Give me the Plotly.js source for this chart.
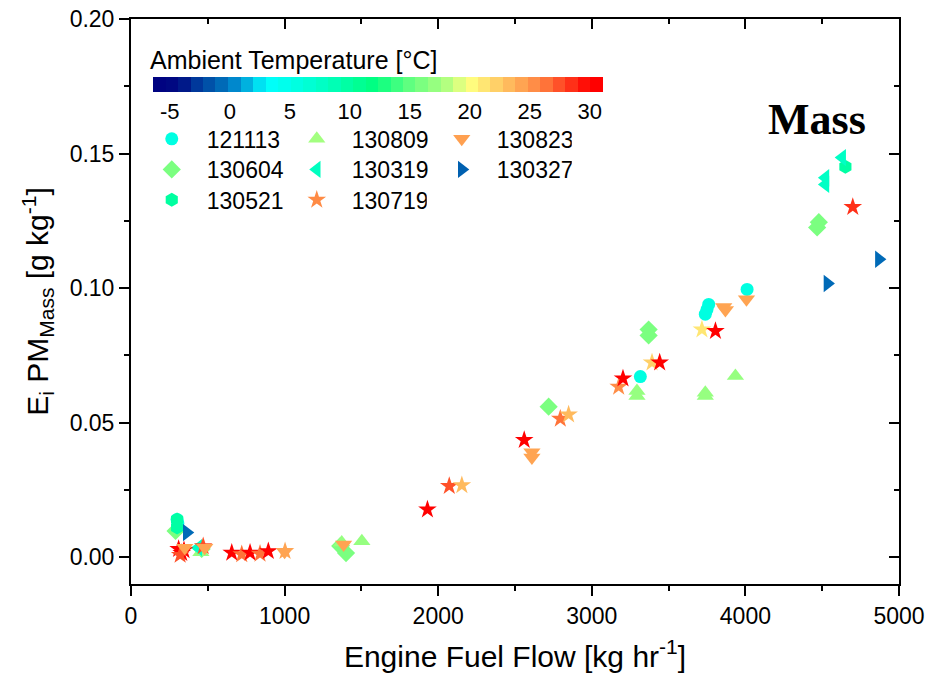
<!DOCTYPE html>
<html>
<head>
<meta charset="utf-8">
<script src="https://cdn.plot.ly/plotly-3.0.1.min.js"></script>
<style>html,body{margin:0;padding:0;background:#fff;}#chart{width:929px;height:680px;}</style>
</head>
<body>
<div id="chart"></div>
<script>
// ---- data ----
const flightNames = ['121113','130604','130521','130809','130319','130719','130823','130327'];
const flightSymbols = ['circle','diamond','hexagon','triangle-up','triangle-left','star','triangle-down','triangle-right'];
const legendTemps = [5.5, 16, 10, 17.5, 8, 25.5, 24.5, -1];

const f121113_x = [300, 305, 3316, 3739, 3750, 3761, 4011];
const f121113_y = [0.0140, 0.0125, 0.0671, 0.0903, 0.0920, 0.0939, 0.0995];
const f121113_t = [5.5, 5.5, 5.5, 5.5, 5.5, 5.5, 5.5];

const f130604_x = [290, 460, 1362, 1400, 2719, 3370, 3370, 4467, 4478];
const f130604_y = [0.0097, 0.0030, 0.0041, 0.0015, 0.0559, 0.0824, 0.0846, 0.1225, 0.1245];
const f130604_t = [16, 16, 16, 16, 16, 16, 16, 16, 16];

const f130521_x = [300, 300, 4651];
const f130521_y = [0.0140, 0.0110, 0.1451];
const f130521_t = [10, 10, 10];

const f130809_x = [455, 1372, 1503, 3294, 3294, 3739, 3739, 3935];
const f130809_y = [0.0018, 0.0054, 0.0059, 0.0617, 0.0599, 0.0611, 0.0599, 0.0673];
const f130809_t = [17.5, 17.5, 17.5, 17.5, 17.5, 17.5, 17.5, 17.5];

const f130319_x = [438, 4521, 4521, 4630];
const f130319_y = [0.0035, 0.1385, 0.1410, 0.1485];
const f130319_t = [8, 8, 8, 8];

const f130719_x = [310, 330, 345, 320, 470, 656, 721, 775, 840, 894, 1003, 1930, 2072, 2154, 2560, 2795, 2849, 3175, 3203, 3392, 3442, 3717, 3805, 4699];
const f130719_y = [0.0030, 0.0015, 0.0025, 0.0008, 0.0040, 0.0016, 0.0010, 0.0016, 0.0012, 0.0022, 0.0022, 0.0177, 0.0264, 0.0267, 0.0435, 0.0514, 0.0530, 0.0633, 0.0664, 0.0723, 0.0723, 0.0846, 0.0840, 0.1301];
const f130719_t = [30.5, 30.5, 30.5, 27, 27, 30.5, 26, 30.5, 26, 30.5, 24.5, 30.5, 27, 23.5, 30.5, 26.5, 23, 25.5, 30.5, 22, 30.5, 21.5, 30.5, 29];

const f130823_x = [350, 480, 1000, 1384, 2610, 2610, 3859, 3870, 4007];
const f130823_y = [0.0035, 0.0035, 0.0020, 0.0047, 0.0390, 0.0370, 0.0930, 0.0918, 0.0958];
const f130823_t = [24.5, 24.5, 24.5, 24.5, 24.5, 24.5, 24.5, 24.5, 24.5];

const f130327_x = [363, 4534, 4869];
const f130327_y = [0.0091, 0.1017, 0.1107];
const f130327_t = [-1, -1, -1];

const colorTicks = [-5, 0, 5, 10, 15, 20, 25, 30];
const colorTickText = ['-5', '0', '5', '10', '15', '20', '25', '30'];

const seriesX = [f121113_x, f130604_x, f130521_x, f130809_x, f130319_x, f130719_x, f130823_x, f130327_x];
const seriesY = [f121113_y, f130604_y, f130521_y, f130809_y, f130319_y, f130719_y, f130823_y, f130327_y];
const seriesT = [f121113_t, f130604_t, f130521_t, f130809_t, f130319_t, f130719_t, f130823_t, f130327_t];

// ---- colour map (stepped jet-like) ----
const CMIN = -6.4, CMAX = 31.1;
const anchors = [
  [-6.4,[0,0,128]],[-4.5,[0,10,130]],[-3.5,[0,32,140]],[-2.5,[0,64,160]],[-1,[0,96,176]],
  [0.5,[0,140,208]],[2,[0,200,232]],[3,[0,255,255]],[7,[0,255,208]],[12,[0,255,128]],
  [15,[96,255,128]],[18,[176,255,128]],[20,[255,255,128]],[23,[255,192,96]],[26,[255,128,64]],
  [28,[255,64,32]],[30,[255,0,0]],[31.1,[255,0,0]]
];
function colorAt(t){
  if(t<=anchors[0][0]) return anchors[0][1];
  for(let i=1;i<anchors.length;i++){
    if(t<=anchors[i][0]){
      const a=anchors[i-1], b=anchors[i];
      const f=(t-a[0])/(b[0]-a[0]);
      return a[1].map((v,k)=>Math.round(v+(b[1][k]-v)*f));
    }
  }
  return anchors[anchors.length-1][1];
}
const rgb = c => 'rgb('+c.join(',')+')';
const NB = 36;
const colorscale = [];
for(let i=0;i<NB;i++){
  const t0=CMIN+(CMAX-CMIN)*i/NB, t1=CMIN+(CMAX-CMIN)*(i+1)/NB;
  const c=rgb(colorAt((t0+t1)/2));
  colorscale.push([i/NB,c]); colorscale.push([(i+1)/NB,c]);
}

const FONT = 'Arial, "Liberation Sans", sans-serif';
const sizes = [13, 14, 14, 15, 15, 14, 15, 15];

const traces = [];
for(let i=0;i<flightNames.length;i++){
  const tr = {
    type:'scatter', mode:'markers', x:seriesX[i], y:seriesY[i], showlegend:false,
    hoverinfo:'x+y',
    marker:{symbol:flightSymbols[i], size:sizes[i], color:seriesT[i], cmin:CMIN, cmax:CMAX,
      colorscale:colorscale, line:{width:0}, showscale:false}
  };
  if(i===0){
    tr.marker.showscale = true;
    tr.marker.colorbar = {
      orientation:'h', x:0.3216, xanchor:'center', y:0.897, yanchor:'top',
      len:450, lenmode:'pixels', thickness:15, xpad:0, ypad:0, outlinewidth:0,
      tickvals:colorTicks, ticktext:colorTickText, ticks:'', tickfont:{family:FONT,size:22,color:'#000'}
    };
  }
  traces.push(tr);
}
// legend proxies (3 rows, filled column-wise like the reference)
const legendRows = ['legend','legend2','legend3','legend','legend2','legend3','legend','legend2'];
const legendOrder = [0, 3, 6, 1, 4, 7, 2, 5];
for(const i of legendOrder){
  traces.push({
    type:'scatter', mode:'markers', x:[null], y:[null], xaxis:'x2', yaxis:'y2',
    name:flightNames[i], legend:legendRows[i], showlegend:true, hoverinfo:'skip',
    marker:{symbol:flightSymbols[i], size:sizes[i], color:rgb(colorAt(legendTemps[i])), line:{width:0}}
  });
}

const axisCommon = {showline:true, linecolor:'#000', linewidth:2, showgrid:false, zeroline:false,
  tickcolor:'#000', tickwidth:2, ticklen:10};
const legendCommon = {orientation:'h', bgcolor:'rgba(0,0,0,0)', font:{family:FONT,size:23,color:'#000'},
  xanchor:'left', yanchor:'top', itemwidth:60, entrywidth:70, entrywidthmode:'pixels', x:0.0075};

const layout = {
  width:929, height:680,
  margin:{l:131, r:30, t:19, b:96},
  paper_bgcolor:'#fff', plot_bgcolor:'#fff',
  font:{family:FONT, color:'#000'},
  xaxis:Object.assign({}, axisCommon, {
    range:[0,5000], dtick:1000, tick0:0, ticks:'outside',
    minor:{dtick:500, ticks:'outside', ticklen:5, tickwidth:2, tickcolor:'#000'},
    tickfont:{family:FONT,size:23,color:'#000'},
    title:{text:'Engine Fuel Flow [kg hr<sup>-1</sup>]', font:{family:FONT,size:30,color:'#000'}, standoff:18}
  }),
  yaxis:Object.assign({}, axisCommon, {
    range:[-0.01,0.20], dtick:0.05, tick0:0, ticks:'outside', tickformat:'.2f',
    minor:{dtick:0.025, ticks:'outside', ticklen:5, tickwidth:2, tickcolor:'#000'},
    tickfont:{family:FONT,size:23,color:'#000'},
    title:{text:'E<sub>i</sub> PM<sub>Mass</sub> [g kg<sup>-1</sup>]', font:{family:FONT,size:30,color:'#000'}, standoff:12}
  }),
  xaxis2:Object.assign({}, axisCommon, {
    overlaying:'x', side:'top', anchor:'y2', range:[0,5000], dtick:1000, tick0:0, ticks:'inside',
    showticklabels:false, minor:{dtick:500, ticks:'inside', ticklen:5, tickwidth:2, tickcolor:'#000'}
  }),
  yaxis2:Object.assign({}, axisCommon, {
    overlaying:'y', side:'right', anchor:'x2', range:[-0.01,0.20], dtick:0.05, tick0:0, ticks:'inside',
    showticklabels:false, minor:{dtick:0.025, ticks:'inside', ticklen:5, tickwidth:2, tickcolor:'#000'}
  }),
  legend:Object.assign({}, legendCommon, {y:0.8258}),
  legend2:Object.assign({}, legendCommon, {y:0.7717}),
  legend3:Object.assign({}, legendCommon, {y:0.7179}),
  annotations:[{
    text:'<b>Mass</b>', xref:'paper', yref:'paper', x:0.893, y:0.823, xanchor:'center', yanchor:'middle',
    showarrow:false, font:{family:'"Liberation Serif", "Times New Roman", serif', size:44, color:'#000'}
  },{
    text:'Ambient Temperature [°C]', xref:'paper', yref:'paper', x:0.022, y:0.927, xanchor:'left', yanchor:'middle',
    showarrow:false, font:{family:FONT, size:25, color:'#000'}
  }]
};

Plotly.newPlot('chart', traces, layout, {displayModeBar:false, staticPlot:true});
</script>
</body>
</html>
